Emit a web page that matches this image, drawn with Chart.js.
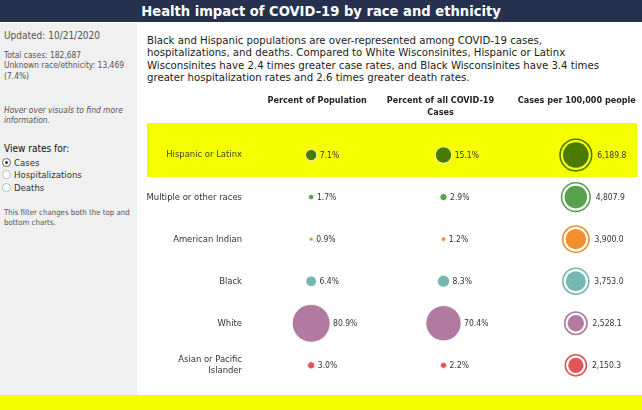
<!DOCTYPE html>
<html>
<head>
<meta charset="utf-8">
<script src="https://cdn.jsdelivr.net/npm/chart.js@4"></script>
<style>
  html, body { margin:0; padding:0; width:642px; height:410px; overflow:hidden; background:#fff;
    font-family: "DejaVu Sans Condensed", "Liberation Sans", sans-serif; }
  #title { position:absolute; left:0; top:0; width:642px; height:22px; background:#25314f;
    color:#fff; font-weight:bold; font-size:14.6px; line-height:22px; text-align:center; }
  #left { position:absolute; left:0; top:23px; width:137px; height:372px; background:#f0f0f0; }
  .t { position:absolute; left:4px; white-space:nowrap; color:#555; }
  .s { font-size:8.4px; line-height:10.5px; }
  #desc { position:absolute; left:147px; top:34.5px; width:476px; font-size:11.3px; line-height:12.6px; color:#222; }
  #band { position:absolute; left:0; top:395px; width:642px; height:15px; background:#f5ff00; }
  #wrap { position:absolute; left:137px; top:88px; width:505px; height:307px; }
  .radio { position:absolute; left:2px; font-size:9.5px; line-height:12px; color:#333; white-space:nowrap; }
  .radio i { display:inline-block; width:7px; height:7px; border:1px solid #bbb; border-radius:50%;
    background:#fff; vertical-align:-1px; margin-right:3px; position:relative; }
  .radio i.on { border-color:#666; }
  .radio i.on::after { content:""; position:absolute; left:2px; top:2px; width:3px; height:3px; border-radius:50%; background:#333; }
</style>
</head>
<body>
<div id="title">Health impact of COVID-19 by race and ethnicity</div>
<div id="left">
  <div class="t" style="top:7px;font-size:10px;line-height:12px;">Updated: 10/21/2020</div>
  <div class="t s" style="top:26.5px;">Total cases: 182,687<br>Unknown race/ethnicity: 13,469<br>(7.4%)</div>
  <div class="t s" style="top:81.5px;font-style:italic;">Hover over visuals to find more<br>information.</div>
  <div class="t" style="top:120px;font-size:10px;line-height:12px;color:#111;">View rates for:</div>
  <div class="radio" style="top:134px;"><i class="on"></i>Cases</div>
  <div class="radio" style="top:146px;"><i></i>Hospitalizations</div>
  <div class="radio" style="top:159px;"><i></i>Deaths</div>
  <div class="t" style="top:184.5px;font-size:7.8px;line-height:10px;">This filter changes both the top and<br>bottom charts.</div>
</div>
<div id="desc">Black and Hispanic populations are over-represented among COVID-19 cases, hospitalizations, and deaths. Compared to White Wisconsinites, Hispanic or Latinx Wisconsinites have 2.4 times greater case rates, and Black Wisconsinites have 3.4 times greater hospitalization rates and 2.6 times greater death rates.</div>
<div id="band"></div>
<div id="wrap"><canvas id="c"></canvas></div>
<script>
const FONT = '"DejaVu Sans Condensed", "Liberation Sans", sans-serif';
const categories = ['Hispanic or Latinx', 'Multiple or other races', 'American Indian', 'Black', 'White', ['Asian or Pacific', 'Islander']];
const columns = ['Percent of Population', ['Percent of all COVID-19', 'Cases'], 'Cases per 100,000 people'];
const pctPopulation = [7.1, 1.7, 0.9, 6.4, 80.9, 3.0];
const pctCases = [15.1, 2.9, 1.2, 8.3, 70.4, 2.2];
const casesPer100k = [6189.8, 4807.9, 3900.0, 3753.0, 2528.1, 2150.3];
const colors = ['#4a7a00', '#59a14f', '#f28e2b', '#76b7b2', '#b07aa1', '#e15759'];
const highlightIndex = 0;
const HIGHLIGHT = '#f5ff00';

const columnKeys = columns.map(c => Array.isArray(c) ? c.join(' ') : c);
const pctScale = v => 2.1 * Math.sqrt(v);
const rateScale = v => 0.163 * Math.sqrt(v);
const fmtPct = v => v.toFixed(1) + '%';
const fmtRate = v => v.toLocaleString('en-US', {minimumFractionDigits:1, maximumFractionDigits:1});

function pts(col, vals, rf, extra) {
  return vals.map((v, i) => ({x: columnKeys[col], y: i, r: rf(v) + (extra || 0), v}));
}

const datasets = [
  {data: pts(0, pctPopulation, pctScale), backgroundColor: colors, borderColor: '#fff', borderWidth: 0.8, labelFmt: fmtPct, labelGap: 3},
  {data: pts(1, pctCases, pctScale), backgroundColor: colors, borderColor: '#fff', borderWidth: 0.8, labelFmt: fmtPct, labelGap: 3},
  {data: pts(2, casesPer100k, rateScale, 3), backgroundColor: 'rgba(0,0,0,0)', borderColor: colors, borderWidth: 1.6},
  {data: pts(2, casesPer100k, rateScale), backgroundColor: colors, borderWidth: 0, labelFmt: fmtRate, labelGap: 8.5}
];

const bgPlugin = {
  id: 'bg',
  beforeDraw(chart) {
    const {ctx, chartArea, scales} = chart;
    const y = scales.y.getPixelForValue(highlightIndex);
    ctx.save();
    ctx.fillStyle = HIGHLIGHT;
    ctx.fillRect(10, y - 32, chartArea.right - 5 - 10, 54);
    ctx.restore();
  },
  afterDatasetsDraw(chart) {
    const {ctx} = chart;
    ctx.save();
    ctx.font = '8.5px ' + FONT;
    ctx.fillStyle = '#333';
    ctx.textBaseline = 'middle';
    ctx.textAlign = 'left';
    chart.data.datasets.forEach((ds, di) => {
      if (!ds.labelFmt) return;
      chart.getDatasetMeta(di).data.forEach((el, i) => {
        const r = ds.data[i].r;
        ctx.fillText(ds.labelFmt(ds.data[i].v), el.x + r + ds.labelGap, el.y + 0.5);
      });
    });
    ctx.restore();
  },
  afterDraw(chart) {
    const {ctx, chartArea, scales} = chart;
    ctx.save();
    ctx.font = 'bold 9px ' + FONT;
    ctx.fillStyle = '#222';
    ctx.textAlign = 'center';
    ctx.textBaseline = 'middle';
    const offs = [6, -3, 1];
    columns.forEach((c, i) => {
      const lines = Array.isArray(c) ? c : [c];
      const x = scales.x.getPixelForValue(i) + offs[i];
      lines.forEach((l, j) => ctx.fillText(l, x, chartArea.top - 33 + j * 11.5));
    });
    ctx.restore();
  }
};

new Chart(document.getElementById('c'), {
  type: 'bubble',
  data: {datasets},
  plugins: [bgPlugin],
  options: {
    responsive: true,
    maintainAspectRatio: false,
    animation: false,
    events: [],
    layout: {autoPadding: false, padding: {top: 46, bottom: 8, left: 0, right: 0}},
    plugins: {legend: {display: false}, tooltip: {enabled: false}},
    scales: {
      x: {type: 'category', labels: columnKeys, offset: true, display: false},
      y: {
        type: 'category', labels: categories, offset: true,
        grid: {display: false, drawTicks: false}, border: {display: false},
        afterFit(scale) { scale.width = 108; },
        ticks: {
          padding: 3,
          font: {family: FONT, size: 9.4},
          color: ctx => ctx.index === highlightIndex ? '#3c4a12' : '#333'
        }
      }
    }
  }
});
</script>
</body>
</html>
